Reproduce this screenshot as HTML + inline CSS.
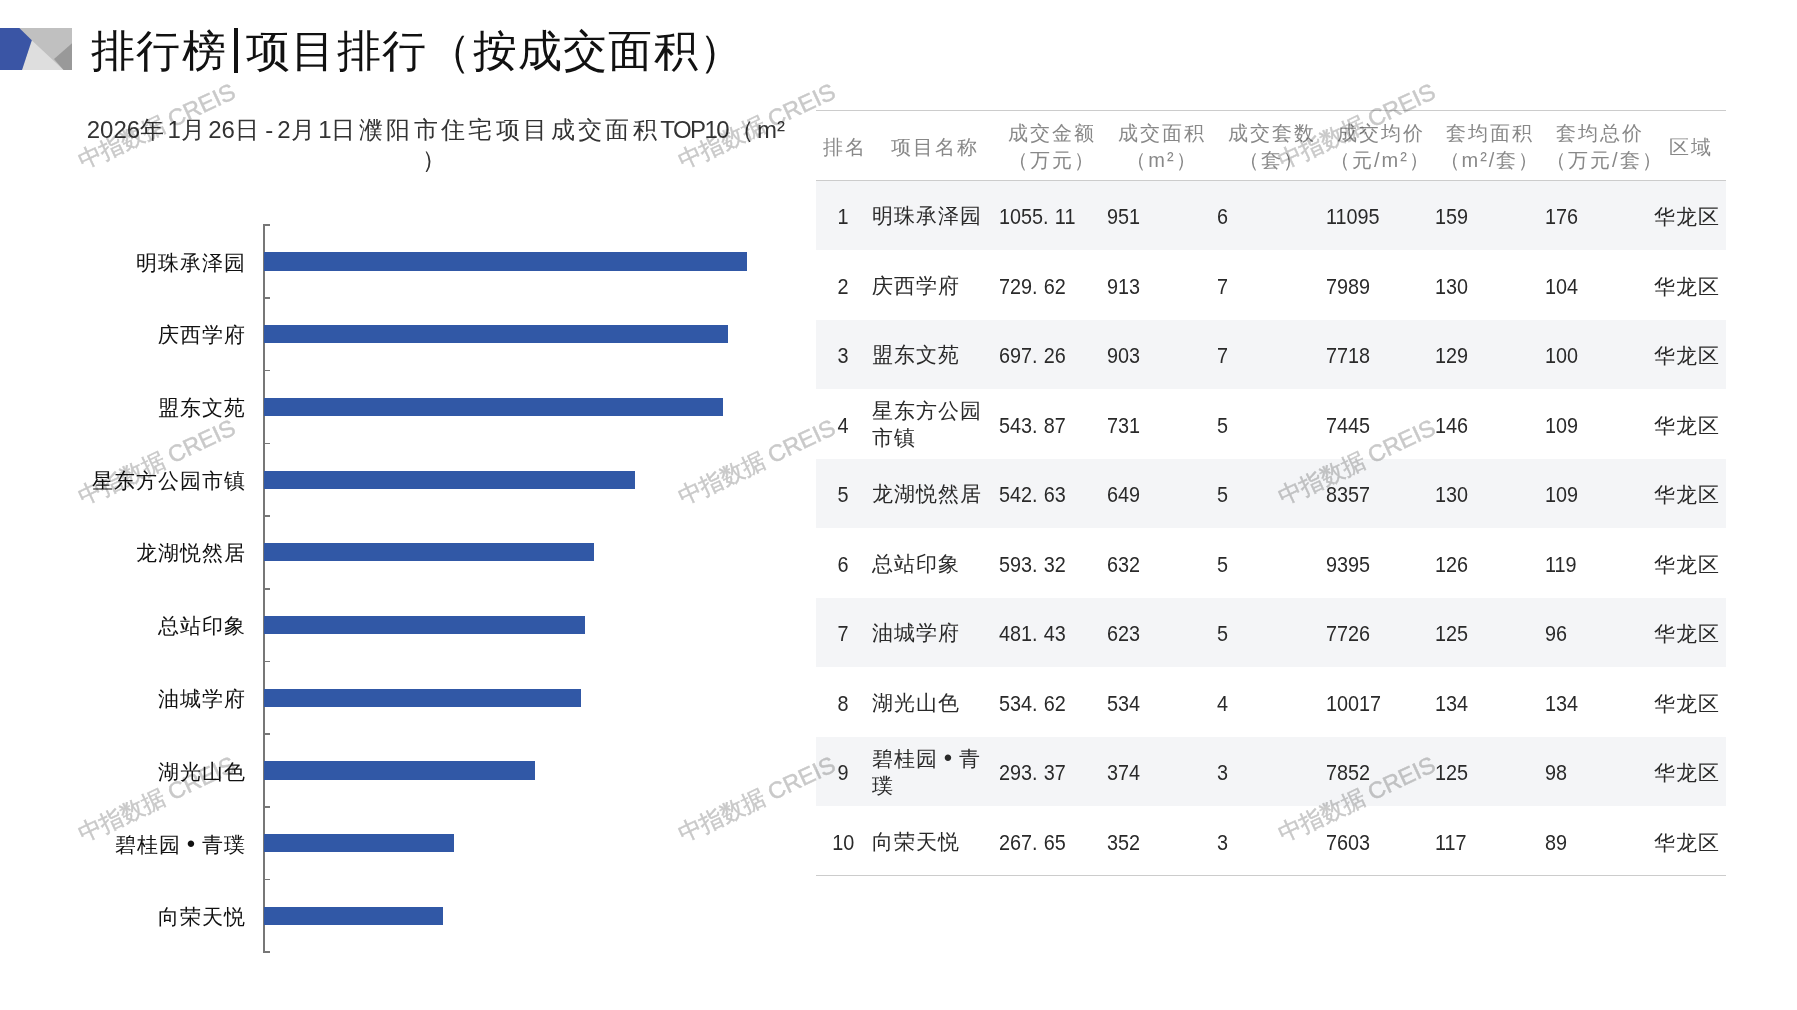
<!DOCTYPE html>
<html><head><meta charset="utf-8">
<style>
*{margin:0;padding:0;box-sizing:border-box}
html,body{width:1797px;height:1010px;overflow:hidden;background:#fff}
body{position:relative;font-family:"Liberation Sans",sans-serif;color:#222}
.abs{position:absolute}
#logo{left:0;top:28px;width:72px;height:42px}
#title{left:91px;top:25.5px;font-family:"Liberation Serif",serif;font-size:44px;line-height:52px;color:#111;white-space:nowrap;letter-spacing:1.3px}
#title .vb{display:inline-block;width:4.2px;height:45px;background:#111;vertical-align:-7px;margin:0 8.2px 0 6.8px}
#ctitle{left:65.8px;top:115px;width:740px;text-align:center;font-size:24px;line-height:30px;color:#333;letter-spacing:3.4px}
#ctitle i{font-style:normal;letter-spacing:0}
#ctitle i.dash{padding-left:3px;letter-spacing:4px}
#ctitle i.tp{letter-spacing:-1.6px;padding-right:1.6px}
#axis{left:263px;top:224.5px;width:1.6px;height:728px;background:#777}
.tick{position:absolute;left:263px;width:7px;height:1.6px;background:#777}
.bar{position:absolute;left:264px;height:18px;background:#3158a6}
.lab{position:absolute;right:1551px;font-family:"Liberation Serif",serif;font-size:21px;line-height:24px;color:#111;white-space:nowrap;letter-spacing:1px}
#tbl{left:816px;top:110px;width:910px;border-collapse:collapse;table-layout:fixed}
#tbl th{height:70px;white-space:nowrap;font-weight:normal;color:#888;font-size:20px;line-height:27px;text-align:center;border-top:1.5px solid #ccc;border-bottom:1.5px solid #ccc;letter-spacing:2px;padding:3px 0 0 2px}
#tbl td{height:69.55px;font-size:21px;line-height:27.5px;color:#2a2a2a;padding:3px 0 0 1px;text-align:left;vertical-align:middle}
#tbl tr.s td{background:#f4f5f7}
.p{letter-spacing:7px}
.nm{display:inline-block;font-size:22px;transform:scaleX(.9);transform-origin:0 50%}
td.r .nm{transform-origin:50% 50%}
#tbl td.r{text-align:center;padding:3px 0 0 0;letter-spacing:0}
#tbl td.n{font-family:"Liberation Serif",serif;letter-spacing:1px;padding-left:1px}
#tbl td.a{padding-left:2.5px}
.bl{display:inline-block;width:21px;text-align:center;font-family:"Liberation Sans",sans-serif;font-size:24px;line-height:1;vertical-align:0}
#tbl td.d{letter-spacing:1px;padding-left:1px}
#tbl tbody tr:last-child td{border-bottom:1.5px solid #ccc}
.wm{position:absolute;font-size:23.4px;line-height:23.4px;color:#c9c9c9;-webkit-text-stroke:0.45px #c9c9c9;mix-blend-mode:multiply;white-space:nowrap;transform:rotate(-25deg);transform-origin:11.7px 11.7px}

</style></head><body>
<svg id="logo" class="abs" viewBox="0 0 72 42" width="72" height="42">
<rect x="0" y="0" width="72" height="42" fill="#c0c0c0"/>
<polygon points="31.7,12.3 63.6,42 22,42" fill="#dedede"/>
<polygon points="72,15.2 54,31 63.6,42 72,42" fill="#999"/>
<polygon points="0,0 19.3,0 31.8,12.2 22,42 0,42" fill="#3a55a5"/>
</svg>
<div id="title" class="abs">排行榜<span class="vb"></span>项目排行（按成交面积）</div>
<div id="ctitle" class="abs"><i>2026</i>年<i>1</i>月<i>26</i>日<i class="dash">-</i><i>2</i>月<i>1</i>日濮阳市住宅项目成交面积<i class="tp">TOP10</i>（<i>m²</i><br>）</div>
<div id="axis" class="abs" style="top:224.45px;height:728.50px"></div>
<div class="tick" style="top:224.45px"></div>
<div class="tick" style="top:297.15px"></div>
<div class="tick" style="top:369.85px"></div>
<div class="tick" style="top:442.55px"></div>
<div class="tick" style="top:515.25px"></div>
<div class="tick" style="top:587.95px"></div>
<div class="tick" style="top:660.65px"></div>
<div class="tick" style="top:733.35px"></div>
<div class="tick" style="top:806.05px"></div>
<div class="tick" style="top:878.75px"></div>
<div class="tick" style="top:951.45px"></div>
<div class="bar" style="top:252.45px;height:18.20px;width:483.1px"></div>
<div class="bar" style="top:325.15px;height:18.20px;width:463.8px"></div>
<div class="bar" style="top:397.85px;height:18.20px;width:458.7px"></div>
<div class="bar" style="top:470.55px;height:18.20px;width:371.3px"></div>
<div class="bar" style="top:543.25px;height:18.20px;width:329.7px"></div>
<div class="bar" style="top:615.95px;height:18.20px;width:321.1px"></div>
<div class="bar" style="top:688.65px;height:18.20px;width:316.5px"></div>
<div class="bar" style="top:761.35px;height:18.20px;width:271.3px"></div>
<div class="bar" style="top:834.05px;height:18.20px;width:190.0px"></div>
<div class="bar" style="top:906.75px;height:18.20px;width:178.8px"></div>
<div class="lab" style="top:250.6px">明珠承泽园</div>
<div class="lab" style="top:323.2px">庆西学府</div>
<div class="lab" style="top:395.9px">盟东文苑</div>
<div class="lab" style="top:468.6px">星东方公园市镇</div>
<div class="lab" style="top:541.4px">龙湖悦然居</div>
<div class="lab" style="top:614.0px">总站印象</div>
<div class="lab" style="top:686.8px">油城学府</div>
<div class="lab" style="top:759.5px">湖光山色</div>
<div class="lab" style="top:832.2px">碧桂园<span class="bl">•</span>青璞</div>
<div class="lab" style="top:904.8px">向荣天悦</div>
<table id="tbl" class="abs">
<colgroup><col style="width:55px"><col style="width:125px"><col style="width:110px"><col style="width:110px"><col style="width:109px"><col style="width:109px"><col style="width:110px"><col style="width:109px"><col style="width:73px"></colgroup>
<thead><tr><th>排名</th><th>项目名称</th><th>成交金额<br>（万元）</th><th>成交面积<br>（m²）</th><th>成交套数<br>（套）</th><th>成交均价<br>（元/m²）</th><th>套均面积<br>（m²/套）</th><th>套均总价<br>（万元/套）</th><th>区域</th></tr></thead>
<tbody>
<tr class="s"><td class="r"><span class="nm">1</span></td><td class="n">明珠承泽园</td><td class="a"><span class="nm">1055<span class="p">.</span>11</span></td><td><span class="nm">951</span></td><td><span class="nm">6</span></td><td><span class="nm">11095</span></td><td><span class="nm">159</span></td><td><span class="nm">176</span></td><td class="d">华龙区</td></tr>
<tr><td class="r"><span class="nm">2</span></td><td class="n">庆西学府</td><td class="a"><span class="nm">729<span class="p">.</span>62</span></td><td><span class="nm">913</span></td><td><span class="nm">7</span></td><td><span class="nm">7989</span></td><td><span class="nm">130</span></td><td><span class="nm">104</span></td><td class="d">华龙区</td></tr>
<tr class="s"><td class="r"><span class="nm">3</span></td><td class="n">盟东文苑</td><td class="a"><span class="nm">697<span class="p">.</span>26</span></td><td><span class="nm">903</span></td><td><span class="nm">7</span></td><td><span class="nm">7718</span></td><td><span class="nm">129</span></td><td><span class="nm">100</span></td><td class="d">华龙区</td></tr>
<tr><td class="r"><span class="nm">4</span></td><td class="n">星东方公园<br>市镇</td><td class="a"><span class="nm">543<span class="p">.</span>87</span></td><td><span class="nm">731</span></td><td><span class="nm">5</span></td><td><span class="nm">7445</span></td><td><span class="nm">146</span></td><td><span class="nm">109</span></td><td class="d">华龙区</td></tr>
<tr class="s"><td class="r"><span class="nm">5</span></td><td class="n">龙湖悦然居</td><td class="a"><span class="nm">542<span class="p">.</span>63</span></td><td><span class="nm">649</span></td><td><span class="nm">5</span></td><td><span class="nm">8357</span></td><td><span class="nm">130</span></td><td><span class="nm">109</span></td><td class="d">华龙区</td></tr>
<tr><td class="r"><span class="nm">6</span></td><td class="n">总站印象</td><td class="a"><span class="nm">593<span class="p">.</span>32</span></td><td><span class="nm">632</span></td><td><span class="nm">5</span></td><td><span class="nm">9395</span></td><td><span class="nm">126</span></td><td><span class="nm">119</span></td><td class="d">华龙区</td></tr>
<tr class="s"><td class="r"><span class="nm">7</span></td><td class="n">油城学府</td><td class="a"><span class="nm">481<span class="p">.</span>43</span></td><td><span class="nm">623</span></td><td><span class="nm">5</span></td><td><span class="nm">7726</span></td><td><span class="nm">125</span></td><td><span class="nm">96</span></td><td class="d">华龙区</td></tr>
<tr><td class="r"><span class="nm">8</span></td><td class="n">湖光山色</td><td class="a"><span class="nm">534<span class="p">.</span>62</span></td><td><span class="nm">534</span></td><td><span class="nm">4</span></td><td><span class="nm">10017</span></td><td><span class="nm">134</span></td><td><span class="nm">134</span></td><td class="d">华龙区</td></tr>
<tr class="s"><td class="r"><span class="nm">9</span></td><td class="n">碧桂园<span class="bl">•</span>青<br>璞</td><td class="a"><span class="nm">293<span class="p">.</span>37</span></td><td><span class="nm">374</span></td><td><span class="nm">3</span></td><td><span class="nm">7852</span></td><td><span class="nm">125</span></td><td><span class="nm">98</span></td><td class="d">华龙区</td></tr>
<tr><td class="r"><span class="nm">10</span></td><td class="n">向荣天悦</td><td class="a"><span class="nm">267<span class="p">.</span>65</span></td><td><span class="nm">352</span></td><td><span class="nm">3</span></td><td><span class="nm">7603</span></td><td><span class="nm">117</span></td><td><span class="nm">89</span></td><td class="d">华龙区</td></tr>
</tbody>
</table>
<div class="wm" style="left:78.9px;top:146.3px">中指数据 CREIS</div>
<div class="wm" style="left:678.9px;top:146.3px">中指数据 CREIS</div>
<div class="wm" style="left:1278.9px;top:146.3px">中指数据 CREIS</div>
<div class="wm" style="left:78.9px;top:481.6px">中指数据 CREIS</div>
<div class="wm" style="left:678.9px;top:481.6px">中指数据 CREIS</div>
<div class="wm" style="left:1278.9px;top:481.6px">中指数据 CREIS</div>
<div class="wm" style="left:78.9px;top:818.6px">中指数据 CREIS</div>
<div class="wm" style="left:678.9px;top:818.6px">中指数据 CREIS</div>
<div class="wm" style="left:1278.9px;top:818.6px">中指数据 CREIS</div>
</body></html>
